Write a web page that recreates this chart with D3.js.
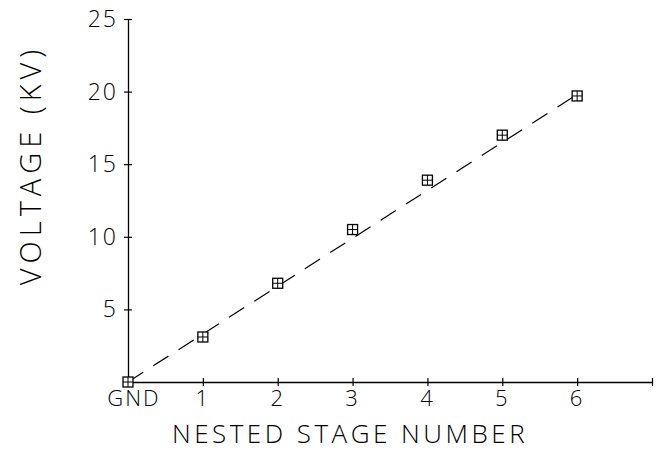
<!DOCTYPE html>
<html>
<head>
    <meta charset="utf-8">
    <script src="https://d3js.org/d3.v7.min.js"></script>
    <style>
        body { margin: 0; background: #fff; }
        text { font-family: "Open Sans", sans-serif; font-weight: 300; fill: #000; }
    </style>
</head>
<body>
<svg width="656" height="451"></svg>
<script>

    // data
    var stages = [0, 1, 2, 3, 4, 5, 6];
    var stageLabels = ["GND", "1", "2", "3", "4", "5", "6"];
    var voltages = [0, 3.1, 6.8, 10.5, 13.9, 17.0, 19.7];
    var fitStages = [0, 6];
    var fitVoltages = [0, 19.8];
    var yTicks = [5, 10, 15, 20, 25];

    var svg = d3.select("svg");

    var x = d3.scaleLinear().domain([0, 7]).range([128, 652]),
        y = d3.scaleLinear().domain([0, 25]).range([382, 19]);

    // x axis with cross ticks
    var xAxis = svg.append("g")
        .attr("transform", "translate(0," + y(0) + ")")
        .call(d3.axisBottom(x).tickValues([1, 2, 3, 4, 5, 6, 7]).tickSize(0).tickFormat(""));
    xAxis.select(".domain").attr("stroke", "#000").attr("stroke-width", 1.3);
    xAxis.selectAll(".tick line").attr("y1", -4).attr("y2", 4).attr("stroke", "#000").attr("stroke-width", 1.2);

    // y axis with cross ticks
    var yAxis = svg.append("g")
        .attr("transform", "translate(" + x(0) + ",0)")
        .call(d3.axisLeft(y).tickValues(yTicks).tickSize(0).tickFormat(""));
    yAxis.select(".domain").attr("stroke", "#000").attr("stroke-width", 1.3);
    yAxis.selectAll(".tick line").attr("x1", -4).attr("x2", 4).attr("stroke", "#000").attr("stroke-width", 1.2);

    // tick labels
    svg.append("g").selectAll("text")
        .data(stages)
        .enter().append("text")
        .attr("x", function(d, i) { return x(d) + (i === 0 ? 6 : 0); })
        .attr("y", 406)
        .attr("text-anchor", "middle")
        .attr("font-size", 22)
        .attr("letter-spacing", 2)
        .text(function(d, i) { return stageLabels[i]; });

    svg.append("g").selectAll("text")
        .data(yTicks)
        .enter().append("text")
        .attr("x", 118)
        .attr("y", function(d) { return y(d) + 8; })
        .attr("text-anchor", "end")
        .attr("font-size", 23)
        .attr("letter-spacing", 2)
        .text(function(d) { return d; });

    // axis titles
    svg.append("text")
        .attr("x", 350)
        .attr("y", 443)
        .attr("text-anchor", "middle")
        .attr("font-size", 26)
        .attr("letter-spacing", 3.5)
        .text("NESTED STAGE NUMBER");

    svg.append("text")
        .attr("transform", "translate(41,165) rotate(-90)")
        .attr("text-anchor", "middle")
        .attr("font-size", 29)
        .attr("letter-spacing", 5)
        .text("VOLTAGE (KV)");

    // dashed fit line
    var line = d3.line()
        .x(function(d) { return x(d[0]); })
        .y(function(d) { return y(d[1]); });

    svg.append("path")
        .datum(d3.zip(fitStages, fitVoltages))
        .attr("d", line)
        .attr("fill", "none")
        .attr("stroke", "#000")
        .attr("stroke-width", 1.2)
        .attr("stroke-dasharray", "18,12");

    // square markers with a cross inside
    var pts = svg.append("g").selectAll("g")
        .data(d3.zip(stages, voltages))
        .enter().append("g")
        .attr("transform", function(d) { return "translate(" + x(d[0]) + "," + y(d[1]) + ")"; });

    pts.append("rect")
        .attr("x", -5).attr("y", -5)
        .attr("width", 10).attr("height", 10)
        .attr("fill", "#fff")
        .attr("stroke", "#000")
        .attr("stroke-width", 1.3);

    pts.append("path")
        .attr("d", "M-5,0H5M0,-5V5")
        .attr("stroke", "#000")
        .attr("stroke-width", 1);

</script>
</body>
</html>
